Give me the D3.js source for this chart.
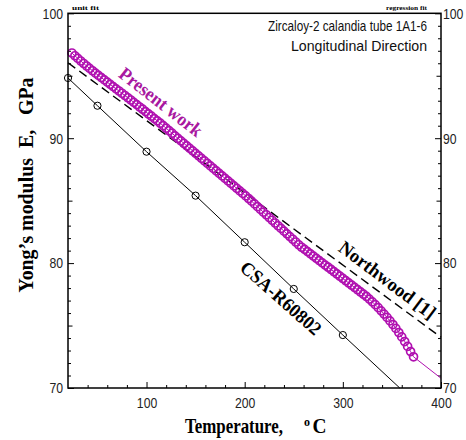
<!DOCTYPE html>
<html>
<head>
<meta charset="utf-8">
<script src="https://cdnjs.cloudflare.com/ajax/libs/d3/7.8.5/d3.min.js"></script>
<style>
  body { margin: 0; background: #fff; }
  svg { display: block; }
</style>
</head>
<body>
<div id="chart"></div>
<script>
/* Young's modulus vs temperature, Zircaloy-2 calandria tube */

// CSA-R60802 points (circles joined by a solid line)
const csaTemp = [20, 50, 100, 150, 200, 250, 300];
const csaModulus = [94.82, 92.60, 88.92, 85.40, 81.67, 77.93, 74.24];
// the solid line keeps going until it meets the x axis
const csaEndTemp = 358, csaEndModulus = 70.0;

// Northwood [1] dashed line
const northwoodTemp = [20, 400];
const northwoodModulus = [96.04, 74.06];

// present work, dense hollow circles
const presentTemp = [24, 27, 30, 33, 36, 39, 42, 45, 48, 51, 54, 57, 60, 63, 66, 69, 72, 75, 78,
  81, 84, 87, 90, 93, 96, 99, 102, 105, 108, 111, 114, 117, 120, 123, 126, 129, 132, 135, 138,
  141, 144, 147, 150, 153, 156, 159, 162, 165, 168, 171, 174, 177, 180, 183, 186, 189, 192, 195,
  198, 201, 204, 207, 210, 213, 216, 219, 222, 225, 228, 231, 234, 237, 240, 243, 246, 249, 252,
  255, 258, 261, 264, 267, 270, 273, 276, 279, 282, 285, 288, 291, 294, 297, 300, 303, 306, 309,
  312, 315, 318, 321, 324, 327, 330, 333, 336, 339, 342, 345, 348, 351, 354, 357, 360, 363, 366,
  369, 372];
const presentModulus = [96.82, 96.60, 96.39, 96.18, 95.98, 95.78, 95.59, 95.40, 95.21, 95.03,
  94.85, 94.67, 94.49, 94.31, 94.13, 93.95, 93.78, 93.60, 93.42, 93.24, 93.06, 92.87, 92.69,
  92.50, 92.32, 92.13, 91.94, 91.76, 91.57, 91.39, 91.20, 91.00, 90.80, 90.60, 90.40, 90.19,
  89.99, 89.79, 89.59, 89.39, 89.19, 88.99, 88.79, 88.59, 88.39, 88.18, 87.98, 87.78, 87.58,
  87.38, 87.18, 86.98, 86.78, 86.58, 86.38, 86.18, 85.98, 85.78, 85.58, 85.38, 85.17, 84.96,
  84.74, 84.52, 84.30, 84.08, 83.87, 83.65, 83.43, 83.21, 82.99, 82.78, 82.56, 82.34, 82.12,
  81.91, 81.69, 81.47, 81.27, 81.10, 80.92, 80.74, 80.56, 80.38, 80.20, 80.02, 79.84, 79.67,
  79.49, 79.31, 79.13, 78.95, 78.77, 78.59, 78.41, 78.23, 78.05, 77.87, 77.69, 77.51, 77.33,
  77.12, 76.90, 76.67, 76.43, 76.18, 75.92, 75.65, 75.37, 75.08, 74.77, 74.44, 74.09, 73.72,
  73.33, 72.92, 72.50];
// thin fit line carries on past the last circle
const presentEndTemp = 400, presentEndModulus = 70.78;

const xMajor = [100, 200, 300, 400];
const xMinor = [40, 60, 80, 120, 140, 160, 180, 220, 240, 260, 280, 320, 340, 360, 380];
const yMajor = [70, 80, 90, 100];
const yMid = [75, 85, 95];
const yMinor = d3.range(71, 100).filter(v => v % 5 != 0);

let width = 466,
    height = 440,
    margin = ({ top: 13.3, right: 25, bottom: 52, left: 68 });

const magenta = "#b010b0";
const sans = "'Liberation Sans', Arial, sans-serif";
const serif = "'Liberation Serif', 'Times New Roman', serif";

const svg = d3.select("#chart")
    .append("svg")
    .attr("width", width)
    .attr("height", height)
    .attr("viewBox", [0, 0, width, height]);

let x = d3.scaleLinear()
    .domain([20, 400])
    .range([margin.left, width - margin.right]);

let y = d3.scaleLinear()
    .domain([70, 100])
    .range([height - margin.bottom, margin.top]);

// ticks, all pointing inward; the labels are a narrow sans
function tickStyle(g) {
  g.select(".domain").remove();
  g.attr("font-family", sans).attr("font-size", 15);
  g.selectAll(".tick line").attr("stroke", "#000");
  g.selectAll(".tick text")
      .attr("fill", "#222")
      .attr("textLength", function() { return this.textContent.length * 6.8; })
      .attr("lengthAdjust", "spacingAndGlyphs");
}

svg.append("g")
    .attr("transform", `translate(0,${y(70)})`)
    .call(d3.axisBottom(x).tickValues(xMajor).tickSize(-6).tickPadding(9))
    .call(tickStyle);
svg.append("g")
    .attr("transform", `translate(0,${y(70)})`)
    .call(d3.axisBottom(x).tickValues(xMinor).tickSize(-3).tickFormat(""))
    .call(tickStyle);

svg.append("g")
    .attr("transform", `translate(${x(20)},0)`)
    .call(d3.axisLeft(y).tickValues(yMajor).tickSize(-6).tickPadding(5))
    .call(tickStyle);
svg.append("g")
    .attr("transform", `translate(${x(20)},0)`)
    .call(d3.axisLeft(y).tickValues(yMid).tickSize(-4.5).tickFormat(""))
    .call(tickStyle);
svg.append("g")
    .attr("transform", `translate(${x(20)},0)`)
    .call(d3.axisLeft(y).tickValues(yMinor).tickSize(-3).tickFormat(""))
    .call(tickStyle);

svg.append("g")
    .attr("transform", `translate(${x(400)},0)`)
    .call(d3.axisRight(y).tickValues(yMajor).tickSize(-6).tickPadding(2))
    .call(tickStyle);
svg.append("g")
    .attr("transform", `translate(${x(400)},0)`)
    .call(d3.axisRight(y).tickValues(yMid).tickSize(-4.5).tickFormat(""))
    .call(tickStyle);
svg.append("g")
    .attr("transform", `translate(${x(400)},0)`)
    .call(d3.axisRight(y).tickValues(yMinor).tickSize(-3).tickFormat(""))
    .call(tickStyle);

let line = d3.line()
    .x(d => x(d[0]))
    .y(d => y(d[1]));

// Northwood [1]
svg.append("path")
    .datum(northwoodTemp.map((t, i) => [t, northwoodModulus[i]]))
    .attr("d", line)
    .attr("fill", "none")
    .attr("stroke", "#000")
    .attr("stroke-width", 1.4)
    .attr("stroke-dasharray", "9,5");

// CSA-R60802
let csa = csaTemp.map((t, i) => [t, csaModulus[i]]);
svg.append("path")
    .datum(csa.concat([[csaEndTemp, csaEndModulus]]))
    .attr("d", line)
    .attr("fill", "none")
    .attr("stroke", "#000")
    .attr("stroke-width", 1);

svg.append("g")
  .selectAll("circle")
  .data(csa)
  .join("circle")
    .attr("cx", d => x(d[0]))
    .attr("cy", d => y(d[1]))
    .attr("r", 3.6)
    .attr("fill", "none")
    .attr("stroke", "#000")
    .attr("stroke-width", 1);

// present work
let present = presentTemp.map((t, i) => [t, presentModulus[i]]);
svg.append("path")
    .datum(present.concat([[presentEndTemp, presentEndModulus]]))
    .attr("d", line)
    .attr("fill", "none")
    .attr("stroke", magenta)
    .attr("stroke-width", 1);

svg.append("g")
  .selectAll("circle")
  .data(present)
  .join("circle")
    .attr("cx", d => x(d[0]))
    .attr("cy", d => y(d[1]))
    .attr("r", 4)
    .attr("fill", "none")
    .attr("stroke", magenta)
    .attr("stroke-width", 1.7);

// frame
svg.append("rect")
    .attr("x", x(20))
    .attr("y", y(100))
    .attr("width", x(400) - x(20))
    .attr("height", y(70) - y(100))
    .attr("fill", "none")
    .attr("stroke", "#000")
    .attr("stroke-width", 1.5);

// curve labels
function curveLabel(txt, cx, cy, angle, len, color) {
  svg.append("text")
      .attr("transform", `translate(${cx},${cy}) rotate(${angle})`)
      .attr("text-anchor", "middle")
      .attr("dominant-baseline", "central")
      .attr("font-family", serif)
      .attr("font-weight", "bold")
      .attr("font-size", 19)
      .attr("textLength", len)
      .attr("lengthAdjust", "spacingAndGlyphs")
      .attr("fill", color)
      .text(txt);
}
curveLabel("Present work", 161, 102, 38, 100, "#a8189f");
curveLabel("Northwood [1]", 387.5, 280, 37, 116, "#000");
curveLabel("CSA-R60802", 281, 298, 41.5, 101, "#000");

// note at top right
svg.append("text")
    .attr("x", 427).attr("y", 31)
    .attr("text-anchor", "end")
    .attr("font-family", sans)
    .attr("font-size", 14.5)
    .attr("textLength", 159)
    .attr("lengthAdjust", "spacingAndGlyphs")
    .attr("fill", "#111")
    .text("Zircaloy-2 calandia tube 1A1-6");
svg.append("text")
    .attr("x", 427).attr("y", 50.5)
    .attr("text-anchor", "end")
    .attr("font-family", sans)
    .attr("font-size", 14.5)
    .attr("textLength", 136)
    .attr("lengthAdjust", "spacingAndGlyphs")
    .attr("fill", "#111")
    .text("Longitudinal Direction");

// tiny marks above the frame
svg.append("text")
    .attr("x", 72).attr("y", 9.5)
    .attr("font-family", serif).attr("font-weight", "bold")
    .attr("font-size", 5.5)
    .attr("textLength", 27).attr("lengthAdjust", "spacingAndGlyphs")
    .text("unit fit");
svg.append("text")
    .attr("x", 386).attr("y", 9.5)
    .attr("font-family", serif).attr("font-weight", "bold")
    .attr("font-size", 5.5)
    .attr("textLength", 41).attr("lengthAdjust", "spacingAndGlyphs")
    .text("regression fit");

// axis titles
let xTitle = svg.append("g")
    .attr("font-family", serif)
    .attr("font-weight", "bold");
xTitle.append("text")
    .attr("x", 185).attr("y", 433)
    .attr("font-size", 22)
    .attr("textLength", 98)
    .attr("lengthAdjust", "spacingAndGlyphs")
    .text("Temperature,");
xTitle.append("text")
    .attr("x", 304).attr("y", 426)
    .attr("font-size", 12)
    .text("o");
xTitle.append("text")
    .attr("x", 312.5).attr("y", 433)
    .attr("font-size", 22)
    .attr("textLength", 14)
    .attr("lengthAdjust", "spacingAndGlyphs")
    .text("C");

svg.append("text")
    .attr("transform", "translate(33,185) rotate(-90)")
    .attr("text-anchor", "middle")
    .attr("font-family", serif)
    .attr("font-weight", "bold")
    .attr("font-size", 21)
    .attr("textLength", 215)
    .attr("lengthAdjust", "spacingAndGlyphs")
    .style("white-space", "pre")
    .text("Yong\u2019s modulus  E,   GPa");
</script>
</body>
</html>
